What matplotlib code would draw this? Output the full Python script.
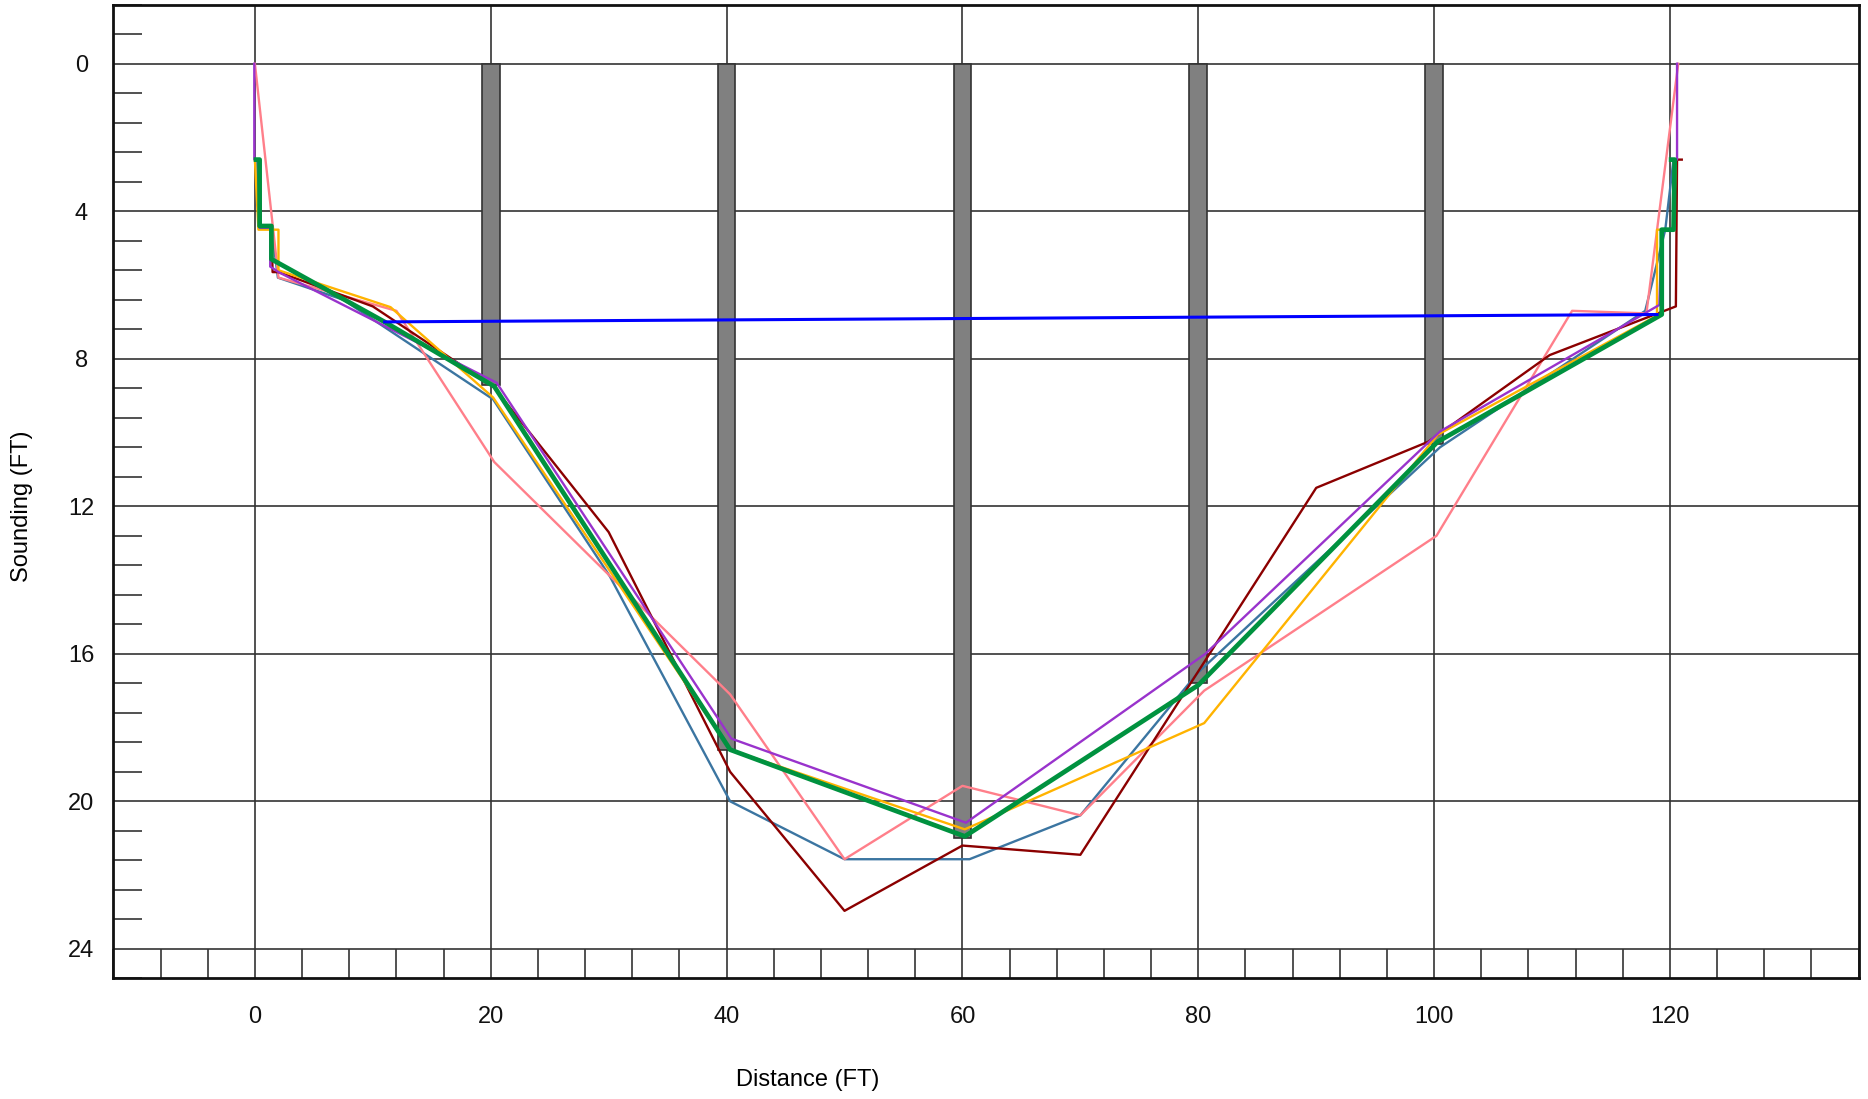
import matplotlib
matplotlib.use("Agg")
import matplotlib.pyplot as plt
from matplotlib.ticker import MultipleLocator

plt.rcParams['font.family'] = ['Liberation Sans', 'DejaVu Sans']

# soundings per survey (distance ft, depth ft)
green_x = [0.1, 0.4, 0.4, 1.4, 1.4, 11.0, 20.3, 40.3, 60.2, 80.0, 100.3, 119.3, 119.3, 120.3, 120.4, 120.1]
green_y = [2.6, 2.6, 4.4, 4.4, 5.3, 7.0, 8.75, 18.6, 20.95, 16.85, 10.25, 6.8, 4.5, 4.5, 2.6, 2.6]

purple_x = [-0.05, -0.05, 0.4, 0.4, 1.3, 1.3, 2.0, 20.5, 40.4, 60.3, 80.6, 100.5, 119.1, 119.3, 120.3, 120.4, 120.6, 120.6]
purple_y = [0.0, 2.6, 2.6, 4.45, 4.45, 5.5, 5.65, 8.65, 18.3, 20.58, 16.0, 9.97, 6.54, 4.5, 4.5, 2.6, 2.6, 0.0]

darkred_x = [0.1, 0.4, 0.5, 1.4, 1.5, 2.0, 10.0, 20.2, 30.0, 40.3, 50.0, 60.0, 70.0, 90.0, 99.5, 109.8, 120.5, 120.6, 121.0]
darkred_y = [2.6, 2.6, 4.4, 4.4, 5.65, 5.65, 6.58, 8.75, 12.7, 19.2, 22.97, 21.2, 21.45, 11.5, 10.25, 7.9, 6.58, 2.6, 2.6]

yellow_x = [0.0, 0.3, 2.0, 2.0, 11.5, 20.2, 40.3, 60.2, 80.5, 100.3, 118.9, 118.9, 120.3, 120.5]
yellow_y = [2.6, 4.5, 4.5, 5.6, 6.6, 9.05, 18.6, 20.76, 17.88, 10.06, 6.83, 4.5, 4.5, 2.6]

steel_x = [0.2, 0.3, 1.4, 1.95, 7.5, 20.2, 30.1, 40.3, 50.0, 60.6, 70.0, 80.0, 100.5, 117.9, 119.6, 120.3]
steel_y = [2.6, 4.4, 4.4, 5.8, 6.4, 9.1, 13.9, 20.0, 21.57, 21.57, 20.38, 16.5, 10.4, 6.7, 4.5, 2.6]

pink_x = [0.0, 2.0, 12.0, 20.3, 40.3, 50.0, 60.0, 70.0, 80.5, 100.2, 111.7, 118.0, 120.7]
pink_y = [0.0, 5.8, 6.7, 10.8, 17.1, 21.57, 19.58, 20.38, 17.0, 12.8, 6.7, 6.77, 0.0]

# water surface
water_x = [11.0, 118.9]
water_y = [7.0, 6.8]

# gauge posts
post_x = [20, 40, 60, 80, 100]
post_depth = [8.7, 18.6, 21.0, 16.8, 10.3]

x_ticks = [0, 20, 40, 60, 80, 100, 120]
y_ticks = [0, 4, 8, 12, 16, 20, 24]

fig = plt.figure(figsize=(18.68, 10.99), dpi=100)
ax = fig.add_axes([0.0607, 0.1098, 0.9343, 0.8859])

ax.set_xlim(-12, 136)
ax.set_ylim(24.8, -1.6)

ax.set_xticks(x_ticks)
ax.set_yticks(y_ticks)
ax.xaxis.set_minor_locator(MultipleLocator(4))
ax.yaxis.set_minor_locator(MultipleLocator(0.8))
ax.tick_params(which='major', length=0, labelsize=17, colors='#111111')
ax.tick_params(axis='y', which='major', pad=23)
ax.tick_params(axis='x', which='major', pad=20)
ax.tick_params(which='minor', direction='in', length=21, width=1.2, color='#333333',
               left=True, bottom=True, top=False, right=False)
for lab in ax.get_yticklabels():
    lab.set_horizontalalignment('center')

ax.grid(which='major', color='#333333', linewidth=1.2, zorder=0)
ax.set_axisbelow(True)
for s in ax.spines.values():
    s.set_linewidth(2)
    s.set_color('#111111')

ax.bar(post_x, post_depth, bottom=0, width=1.5, color='#808080',
       edgecolor='#333333', linewidth=1.2, zorder=2)

ax.plot(steel_x, steel_y, color='#3b75a1', lw=1.7, zorder=3)
ax.plot(pink_x, pink_y, color='#ff7f8a', lw=1.7, zorder=3)
ax.plot(darkred_x, darkred_y, color='#8b0000', lw=1.7, zorder=3)
ax.plot(yellow_x, yellow_y, color='#ffb300', lw=1.7, zorder=3)
ax.plot(purple_x, purple_y, color='#9933cc', lw=1.7, zorder=3)
ax.plot(green_x, green_y, color='#00923f', lw=3.4, zorder=4)
ax.plot(water_x, water_y, color='#0000ff', lw=2.2, zorder=5)

fig.text(808 / 1868, 1 - 1080 / 1099, 'Distance (FT)', ha='center', va='center', fontsize=17)
fig.text(22 / 1868, 1 - 506 / 1099, 'Sounding (FT)', ha='center', va='center',
         rotation=90, fontsize=17)

fig.savefig('out.png', dpi=100)
